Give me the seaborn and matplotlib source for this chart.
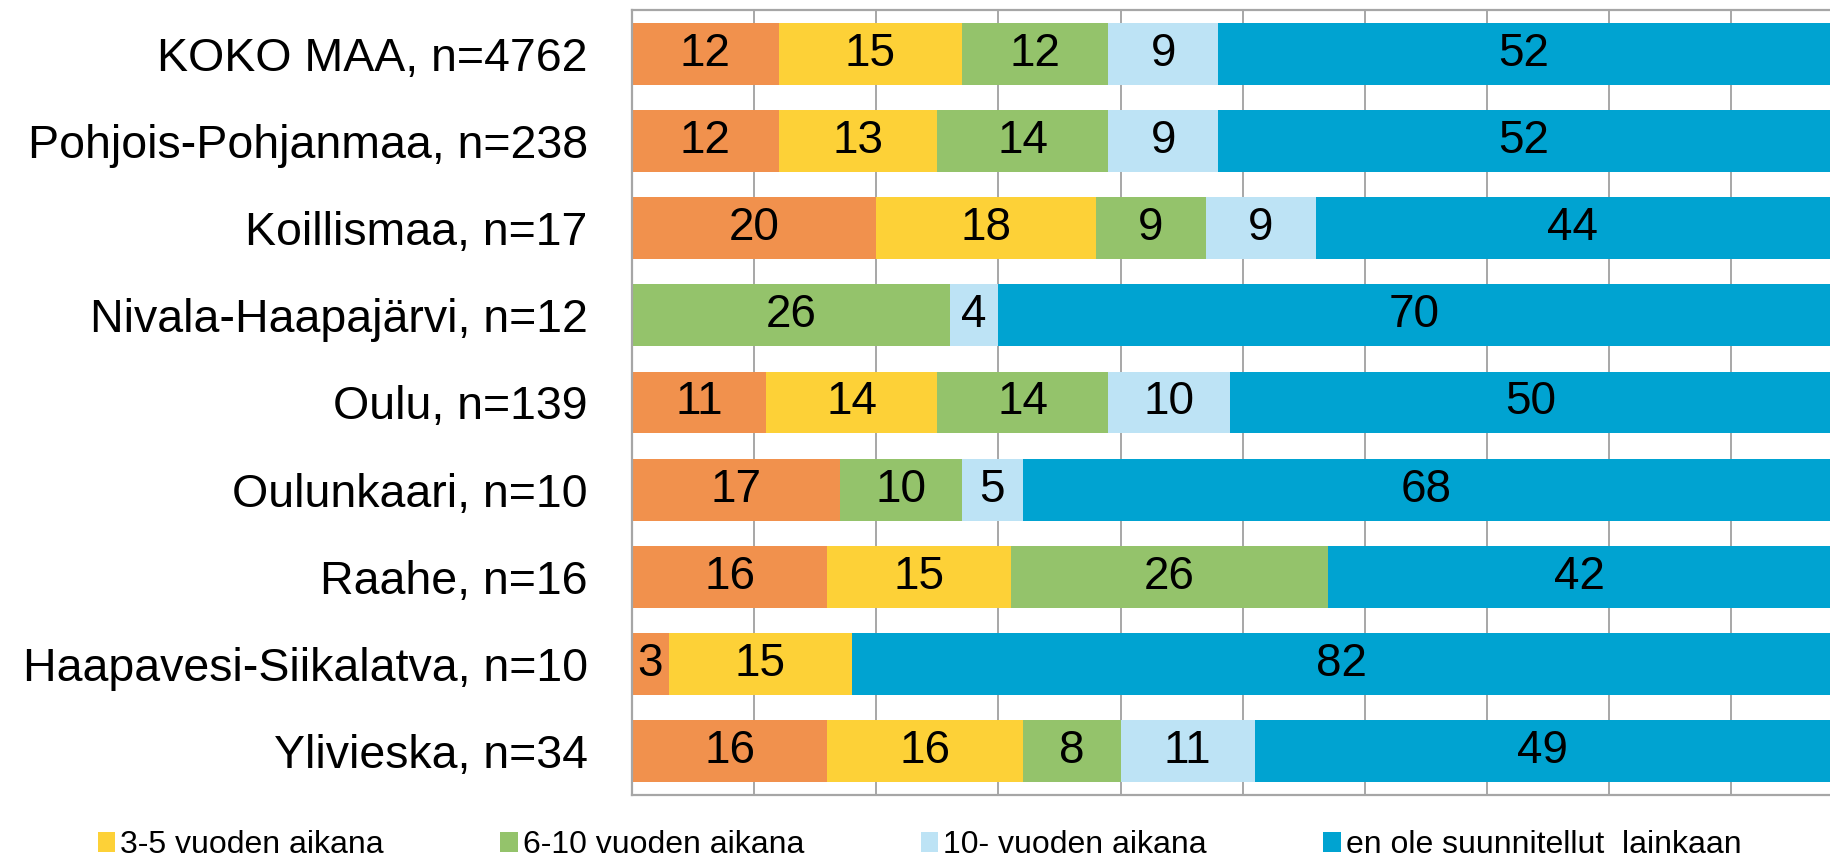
import matplotlib
matplotlib.use("Agg")
import matplotlib.pyplot as plt
import seaborn as sns
from matplotlib.patches import Patch

# ---- data ----
regions = [
    "KOKO MAA, n=4762",
    "Pohjois-Pohjanmaa, n=238",
    "Koillismaa, n=17",
    "Nivala-Haapajärvi, n=12",
    "Oulu, n=139",
    "Oulunkaari, n=10",
    "Raahe, n=16",
    "Haapavesi-Siikalatva, n=10",
    "Ylivieska, n=34",
]
series_names = [
    "1-2 vuoden aikana",
    "3-5 vuoden aikana",
    "6-10 vuoden aikana",
    "10- vuoden aikana",
    "en ole suunnitellut  lainkaan",
]
s_1_2 = [12, 12, 20, 0, 11, 17, 16, 3, 16]
s_3_5 = [15, 13, 18, 0, 14, 0, 15, 15, 16]
s_6_10 = [12, 14, 9, 26, 14, 10, 26, 0, 8]
s_10p = [9, 9, 9, 4, 10, 5, 0, 0, 11]
s_none = [52, 52, 44, 70, 50, 68, 42, 82, 49]
series_values = [s_1_2, s_3_5, s_6_10, s_10p, s_none]
colors = ["#F1914D", "#FDD137", "#94C36B", "#BDE3F5", "#00A3D1"]
legend_shown = [1, 2, 3, 4]

# ---- style ----
sns.set_style("white")
plt.rcParams["font.family"] = ["Liberation Sans", "DejaVu Sans"]
plt.rcParams["text.color"] = "black"
plt.rcParams["ytick.color"] = "black"
plt.rcParams["ytick.labelcolor"] = "black"

fig = plt.figure(figsize=(18.3, 8.64), dpi=100)
ax = fig.add_axes([0.3454, 0.0799, 1.0 - 0.3454, 0.9884 - 0.0799])

lefts = [0] * len(regions)
for vals, col in zip(series_values, colors):
    sns.barplot(x=vals, y=regions, color=col, orient="h", width=0.71,
                errorbar=None, saturation=1, linewidth=0, ax=ax)
    cont = ax.containers[-1]
    for patch, left in zip(cont, lefts):
        patch.set_x(left)
    labels = ["" if v == 0 else str(v) for v in vals]
    ax.bar_label(cont, labels=labels, label_type="center", fontsize=33,
                 color="black")
    lefts = [l + v for l, v in zip(lefts, vals)]

ax.set_xlim(0, 98.1)
ax.set_ylim(8.5, -0.5)
ax.set_xticks(range(0, 100, 10))
ax.set_xlabel("")
ax.set_ylabel("")
ax.tick_params(axis="x", length=0, labelbottom=False)
ax.tick_params(axis="y", length=0, pad=32, labelsize=33.5, labelcolor="black")
ax.xaxis.grid(True, color="#A0A0A0", linewidth=1.3)
ax.yaxis.grid(False)
ax.set_axisbelow(True)
for side in ["top", "left", "bottom"]:
    ax.spines[side].set_visible(True)
    ax.spines[side].set_color("#A6A6A6")
    ax.spines[side].set_linewidth(1.6)
ax.spines["right"].set_visible(False)

handles = [Patch(facecolor=colors[i], edgecolor="none", label=series_names[i])
           for i in legend_shown]
leg = fig.legend(handles=handles, loc="upper left", bbox_to_anchor=(0.0535, 0.039),
                 ncol=4, frameon=False, fontsize=23, borderpad=0, borderaxespad=0,
                 handlelength=0.55, handleheight=0.55, handletextpad=0.15,
                 columnspacing=3.65)
for t in leg.get_texts():
    t.set_color("black")

fig.savefig("out.png", dpi=100)
